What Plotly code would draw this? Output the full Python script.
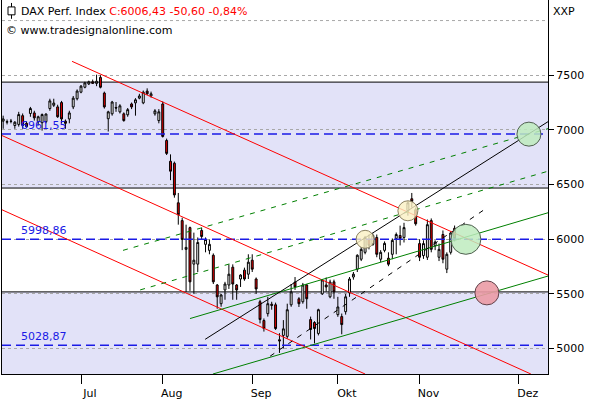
import plotly.graph_objects as go

# ---------------- data ----------------
opens = [7080,7070,7080,7040,7050,7130,7060,7150,7155,7075,7066,7075,7195,7225,7210,7250,7080,7100,7210,7285,
         7345,7390,7420,7440,7425,7480,7337,7102,7147,7205,7165,7147,7138,7237,7247,7290,7247,7355,7310,7147,
         7085,7237,6903,6713,6695,6333,6170,5907,6106,5772,5772,6080,5953,5898,5853,5581,5410,5536,5581,5744,
         5581,5636,5717,5680,5808,5636,5428,5256,5319,5405,5400,5080,5120,5111,5400,5608,5455,5428,5581,5265,
         5238,5138,5500,5581,5473,5610,5310,5292,5337,5509,5654,5726,5817,5880,5998,5953,6016,5817,5898,5826,
         5862,6007,6034,6016,6260,6370,6270,5960,5850,5835,6170,5940,5835,6043,5726,5880,6100]
highs = [7130,7095,7100,7080,7165,7150,7075,7210,7175,7130,7150,7150,7285,7285,7230,7265,7095,7175,7310,7370,
         7410,7440,7450,7460,7505,7500,7350,7175,7265,7255,7235,7160,7200,7250,7290,7330,7360,7380,7350,7190,
         7190,7260,6920,6776,6710,6423,6197,6133,6115,6060,6016,6105,6016,5998,5870,5590,5500,5610,5770,5770,
         5590,5680,5740,5862,5862,5650,5446,5275,5473,5428,5420,5140,5260,5410,5590,5654,5470,5600,5590,5292,
         5250,5364,5636,5650,5630,5630,5473,5320,5500,5654,5700,5862,5930,6030,6043,6052,6043,5900,5980,5880,
         6007,6061,6124,6150,6350,6423,6290,6000,5990,6180,6190,5990,5960,6080,5880,6070,6125]
lows = [7010,7050,7060,7010,7030,7010,7020,7120,7085,7040,6993,7060,7175,7210,7110,7060,7010,7060,7190,7270,
        7335,7380,7410,7420,7400,7380,7195,6985,7130,7165,7150,7075,7120,7190,7130,7280,7235,7320,7295,7130,
        7060,6930,6770,6540,6380,6133,5900,5518,5527,5500,5700,5998,5880,5862,5590,5364,5382,5446,5545,5446,
        5446,5563,5620,5636,5700,5500,5230,5155,5292,5355,5170,4960,5000,5090,5382,5536,5380,5410,5364,5083,
        5047,5120,5490,5520,5460,5455,5290,5130,5310,5473,5630,5700,5800,5862,5907,5940,5835,5790,5880,5753,
        5817,5862,5943,5970,6215,6290,6124,5800,5820,5810,5880,5900,5800,5780,5690,5860,5980]
closes = [7100,7075,7078,7070,7140,7040,7030,7195,7110,7120,7140,7145,7265,7245,7120,7100,7060,7155,7290,7355,
          7400,7430,7440,7425,7445,7390,7210,7165,7255,7200,7220,7085,7185,7210,7275,7310,7345,7330,7330,7174,
          7165,6940,6785,6622,6405,6224,5998,5925,5610,5808,5970,6025,5998,5953,5610,5473,5490,5590,5680,5590,
          5536,5672,5636,5790,5726,5545,5265,5183,5410,5395,5183,5070,5180,5355,5518,5563,5410,5581,5455,5174,
          5183,5355,5627,5563,5608,5518,5380,5219,5473,5636,5680,5853,5907,6016,5943,6034,5862,5880,5962,5771,
          5989,6043,6007,6106,6333,6346,6141,5835,5960,6133,5907,5975,5907,5817,5862,6057,6006]

month_ticks = [20, 41, 64, 86, 107, 132.5]
month_labels = ["Jul", "Aug", "Sep", "Okt", "Nov", "Dez"]
price_ticks = [5000, 5500, 6000, 6500, 7000, 7500]

band_levels = [7437, 6468, 5518]           # black band borders
level_values = [6961.55, 5998.86, 5028.87]  # blue dashed levels
level_labels = ["6961,55", "5998,86", "5028,87"]

# trend lines: (x0, y0, x1, y1) in bar index / price
red_lines = [(17.7, 7627, 140, 5672), (-0.3, 6948, 135.6, 4767), (-0.3, 6269, 93.0, 4767)]
green_lines = [(48.0, 5274, 140, 6242), (53.9, 4767, 140, 5663)]
green_dashed = [(30.8, 5898, 140, 7011), (35.2, 5536, 140, 6622)]
black_lines = [(51.9, 5084, 140, 7075)]
black_dashed = [(68.6, 4930, 124.3, 6287)]

# highlight circles: (bar index, price, radius px, fill, line)
circles = [(93.0, 5999, 9, "rgba(250,240,195,0.8)", "#8a8060"),
           (104.0, 6260, 10, "rgba(250,240,195,0.8)", "#8a8060"),
           (118.9, 5999, 15, "rgba(190,235,190,0.85)", "#506050"),
           (124.3, 5509, 12, "rgba(235,155,165,0.9)", "#604048"),
           (135.1, 6961, 12, "rgba(190,235,190,0.85)", "#506050")]

FONT = "DejaVu Sans"
X_MIN, X_MAX = -0.3, 140
Y_MIN, Y_MAX = 4767, 8188

fig = go.Figure()
fig.add_trace(go.Candlestick(
    x=list(range(len(opens))), open=opens, high=highs, low=lows, close=closes,
    increasing=dict(line=dict(color="black", width=1), fillcolor="white"),
    decreasing=dict(line=dict(color="black", width=1), fillcolor="#e00000"),
    whiskerwidth=0, hoverinfo="skip",
))

shapes = []
# bands
shapes.append(dict(type="rect", xref="x", yref="y", x0=X_MIN, x1=X_MAX, y0=band_levels[1], y1=band_levels[0],
                   fillcolor="#e2e2f8", line=dict(width=0), layer="below"))
shapes.append(dict(type="rect", xref="x", yref="y", x0=X_MIN, x1=X_MAX, y0=Y_MIN, y1=band_levels[2],
                   fillcolor="#e2e2f8", line=dict(width=0), layer="below"))
# 8000 gridline
shapes.append(dict(type="line", xref="x", yref="y", x0=X_MIN, x1=X_MAX, y0=8000, y1=8000,
                   line=dict(color="#a8a8a8", width=1, dash="dot"), layer="below"))
for b in band_levels:
    shapes.append(dict(type="line", xref="x", yref="y", x0=X_MIN, x1=X_MAX, y0=b, y1=b,
                       line=dict(color="black", width=1), layer="below"))
for v in level_values:
    shapes.append(dict(type="line", xref="x", yref="y", x0=X_MIN, x1=X_MAX, y0=v, y1=v,
                       line=dict(color="#1a1ae6", width=1.5, dash="9px,5px")))
for (x0, y0, x1, y1) in red_lines:
    shapes.append(dict(type="line", xref="x", yref="y", x0=x0, y0=y0, x1=x1, y1=y1,
                       line=dict(color="#ff0000", width=1)))
for (x0, y0, x1, y1) in green_lines:
    shapes.append(dict(type="line", xref="x", yref="y", x0=x0, y0=y0, x1=x1, y1=y1,
                       line=dict(color="#008000", width=1)))
for (x0, y0, x1, y1) in green_dashed:
    shapes.append(dict(type="line", xref="x", yref="y", x0=x0, y0=y0, x1=x1, y1=y1,
                       line=dict(color="#008000", width=1, dash="5px,6px")))
for (x0, y0, x1, y1) in black_lines:
    shapes.append(dict(type="line", xref="x", yref="y", x0=x0, y0=y0, x1=x1, y1=y1,
                       line=dict(color="black", width=1)))
for (x0, y0, x1, y1) in black_dashed:
    shapes.append(dict(type="line", xref="x", yref="y", x0=x0, y0=y0, x1=x1, y1=y1,
                       line=dict(color="black", width=1, dash="5px,6px")))
for (cx, cy, r, fc, lc) in circles:
    shapes.append(dict(type="circle", xref="x", yref="y", xsizemode="pixel", ysizemode="pixel",
                       xanchor=cx, yanchor=cy, x0=-r, x1=r, y0=-r, y1=r,
                       fillcolor=fc, line=dict(color=lc, width=1)))

# header icon (paper coords; plot area is 546x378 px)
def px(xp):
    return (xp - 2) / 546.0
def py(yp):
    return (378 - yp) / 378.0
shapes.append(dict(type="line", xref="paper", yref="paper", x0=px(11.5), x1=px(11.5), y0=py(3), y1=py(19),
                   line=dict(color="black", width=1)))
shapes.append(dict(type="rect", xref="paper", yref="paper", x0=px(8), x1=px(15), y0=py(15), y1=py(7),
                   fillcolor="white", line=dict(color="black", width=1)))

annotations = []
for v, t in zip(level_values, level_labels):
    annotations.append(dict(x=4.1, y=v, xref="x", yref="y", text=t, showarrow=False,
                            xanchor="left", yanchor="bottom", yshift=0,
                            font=dict(family=FONT, size=11, color="#1a1ae6")))
annotations.append(dict(x=px(19), y=py(12), xref="paper", yref="paper", showarrow=False,
                        xanchor="left", yanchor="middle",
                        text="DAX Perf. Index <span style='color:#ff0000'>C:6006,43 -50,60 -0,84%</span>",
                        font=dict(family=FONT, size=11, color="black")))
annotations.append(dict(x=px(4), y=py(31), xref="paper", yref="paper", showarrow=False,
                        xanchor="left", yanchor="middle", text="© www.tradesignalonline.com",
                        font=dict(family=FONT, size=11, color="black")))
annotations.append(dict(x=px(551), y=py(12), xref="paper", yref="paper", showarrow=False,
                        xanchor="left", yanchor="middle", text="XXP",
                        font=dict(family=FONT, size=11, color="black")))

fig.update_layout(
    width=595, height=400, margin=dict(l=2, r=47, t=0, b=22),
    paper_bgcolor="white", plot_bgcolor="white", showlegend=False,
    shapes=shapes, annotations=annotations,
    xaxis=dict(range=[X_MIN, X_MAX], rangeslider=dict(visible=False), tickmode="array",
               tickvals=month_ticks, ticktext=month_labels, ticks="outside", ticklen=9,
               tickcolor="black", tickwidth=1, showgrid=False, zeroline=False,
               showline=True, linecolor="black", linewidth=1, ticklabelshift=9,
               tickfont=dict(family=FONT, size=11, color="black")),
    yaxis=dict(range=[Y_MIN, Y_MAX], side="right", tickmode="array", tickvals=price_ticks,
               ticktext=[str(t) for t in price_ticks], ticks="outside", ticklen=5, tickcolor="black",
               showgrid=True, gridcolor="#a8a8a8", griddash="dot", gridwidth=1, zeroline=False,
               showline=True, linecolor="black", linewidth=1, mirror=True,
               tickfont=dict(family=FONT, size=11, color="black")),
)

fig.write_html("out.html")
